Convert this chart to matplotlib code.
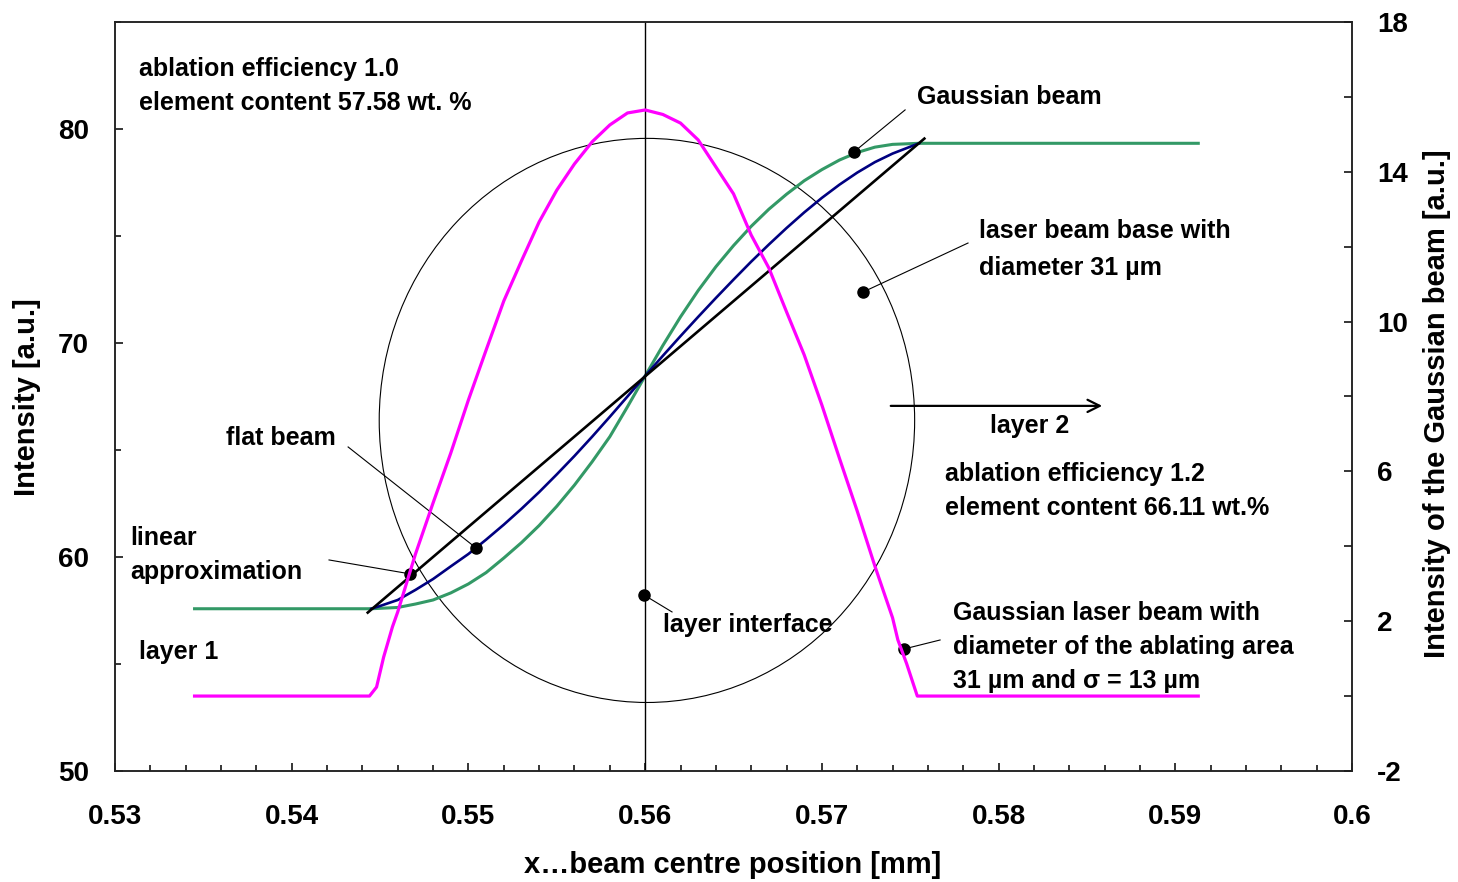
import matplotlib
matplotlib.use("Agg")
import matplotlib.pyplot as plt
from matplotlib.patches import Ellipse
from matplotlib.ticker import MultipleLocator

plt.rcParams["font.family"] = ["Liberation Sans", "DejaVu Sans"]
plt.rcParams["font.weight"] = "bold"
plt.rcParams["axes.unicode_minus"] = False

# x positions of the beam centre [mm]
x_gauss = [0.5345, 0.5445, 0.546, 0.547, 0.548, 0.549, 0.550, 0.551, 0.552, 0.553,
           0.554, 0.555, 0.556, 0.557, 0.558, 0.559, 0.560, 0.561, 0.562, 0.563,
           0.564, 0.565, 0.566, 0.567, 0.568, 0.569, 0.570, 0.571, 0.572, 0.573,
           0.574, 0.5755, 0.5913]
# intensity, Gaussian beam (green)
y_gauss = [57.58, 57.58, 57.64, 57.80, 57.99, 58.32, 58.74, 59.27, 59.95, 60.67,
           61.47, 62.37, 63.36, 64.45, 65.62, 67.02, 68.46, 69.88, 71.22, 72.45,
           73.56, 74.55, 75.45, 76.25, 76.95, 77.58, 78.10, 78.55, 78.90, 79.15,
           79.28, 79.33, 79.33]

# flat beam (blue)
x_flat = [0.5445, 0.545, 0.546, 0.547, 0.548, 0.549, 0.550, 0.551, 0.552, 0.553,
          0.554, 0.555, 0.556, 0.557, 0.558, 0.559, 0.560, 0.561, 0.562, 0.563,
          0.564, 0.565, 0.566, 0.567, 0.568, 0.569, 0.570, 0.571, 0.572, 0.573,
          0.574, 0.5755]
y_flat = [57.58, 57.71, 57.99, 58.46, 58.97, 59.56, 60.14, 60.81, 61.51, 62.25,
          63.03, 63.86, 64.72, 65.62, 66.55, 67.50, 68.46, 69.40, 70.32, 71.22,
          72.10, 72.96, 73.80, 74.60, 75.37, 76.10, 76.78, 77.40, 77.96, 78.45,
          78.85, 79.33]

# linear approximation (black)
x_lin = [0.5443, 0.5758]
y_lin = [57.40, 79.55]

# Gaussian beam profile, right axis (magenta)
x_prof = [0.5345, 0.5444, 0.5448, 0.5452, 0.5457, 0.546, 0.547, 0.548, 0.549, 0.550,
          0.551, 0.552, 0.553, 0.554, 0.555, 0.556, 0.557, 0.558, 0.559, 0.560,
          0.561, 0.562, 0.563, 0.564, 0.565, 0.566, 0.567, 0.568, 0.569, 0.570,
          0.571, 0.572, 0.573, 0.574, 0.5743, 0.5748, 0.5754, 0.5913]
y_prof = [0, 0, 0.24, 1.04, 1.85, 2.25, 3.79, 5.16, 6.49, 7.91,
          9.24, 10.55, 11.62, 12.66, 13.51, 14.21, 14.80, 15.25, 15.57, 15.65,
          15.53, 15.30, 14.85, 14.13, 13.41, 12.31, 11.43, 10.26, 9.11, 7.77,
          6.34, 4.94, 3.47, 2.09, 1.50, 0.86, 0, 0]

xticks = [0.53, 0.54, 0.55, 0.56, 0.57, 0.58, 0.59, 0.60]
xtick_labels = ["0.53", "0.54", "0.55", "0.56", "0.57", "0.58", "0.59", "0.6"]
yticks_left = [50, 60, 70, 80]
yticks_right = [-2, 2, 6, 10, 14, 18]

fig = plt.figure(figsize=(14.58, 8.82), dpi=100)
ax = fig.add_axes([0.0789, 0.1259, 0.8484, 0.8492])
ax2 = ax.twinx()

ax.plot(x_gauss, y_gauss, color="#339966", lw=2.2)
ax.plot(x_flat, y_flat, color="#000080", lw=1.9)
ax.plot(x_lin, y_lin, color="black", lw=1.9)
ax.axvline(0.56, color="black", lw=1.0)
ax.add_patch(Ellipse((0.5601, 66.38), 0.0303, 26.36, fill=False, ec="black", lw=0.8))

ax2.plot(x_prof, y_prof, color="#FF00FF", lw=2.3)

ax.set_xlim(0.53, 0.60)
ax.set_ylim(50, 85)
ax2.set_ylim(-2, 18)

ax.set_xticks(xticks)
ax.set_xticklabels(xtick_labels)
ax.xaxis.set_minor_locator(MultipleLocator(0.002))
ax.set_yticks(yticks_left)
ax.yaxis.set_minor_locator(MultipleLocator(5))
ax2.set_yticks(yticks_right)
ax2.yaxis.set_minor_locator(MultipleLocator(2))

ax.tick_params(axis="x", which="major", direction="in", length=6, width=1.1, pad=24, labelsize=20)
ax.tick_params(axis="x", which="minor", direction="in", length=4, width=1.1)
ax.tick_params(axis="y", which="major", direction="in", length=6, width=1.1, pad=19, labelsize=20)
ax.tick_params(axis="y", which="minor", direction="in", length=4, width=1.1)
ax.tick_params(top=False, right=False)
ax2.tick_params(axis="y", which="both", direction="in", length=6, width=1.1, pad=18, labelsize=20)
for lbl in ax.get_xticklabels() + ax.get_yticklabels() + ax2.get_yticklabels():
    lbl.set_fontweight("bold")

for a in (ax, ax2):
    for s in a.spines.values():
        s.set_linewidth(1.1)
        s.set_color("#222222")

fig.text(0.5027, 0.0193, "x…beam centre position [mm]", ha="center", va="center",
         fontsize=21, fontweight="bold")
fig.text(0.0185, 0.5499, "Intensity [a.u.]", ha="center", va="center",
         rotation=90, fontsize=21, fontweight="bold")
fig.text(0.9856, 0.542, "Intensity of the Gaussian beam [a.u.]", ha="center", va="center",
         rotation=90, fontsize=21, fontweight="bold")

# annotations
labels = [
    (0.53136, 82.80, "ablation efficiency 1.0"),
    (0.53136, 81.21, "element content 57.58 wt. %"),
    (0.57538, 81.50, "Gaussian beam"),
    (0.57889, 75.23, "laser beam base with"),
    (0.57889, 73.50, "diameter 31 µm"),
    (0.57952, 66.12, "layer 2"),
    (0.57697, 63.88, "ablation efficiency 1.2"),
    (0.57697, 62.29, "element content 66.11 wt.%"),
    (0.53628, 65.56, "flat beam"),
    (0.53085, 60.89, "linear"),
    (0.53085, 59.30, "approximation"),
    (0.53136, 55.56, "layer 1"),
    (0.56101, 56.82, "layer interface"),
    (0.57742, 57.38, "Gaussian laser beam with"),
    (0.57742, 55.79, "diameter of the ablating area"),
    (0.57742, 54.21, "31 µm and σ = 13 µm"),
]
for tx, ty, s in labels:
    ax.text(tx, ty, s, ha="left", va="center", fontsize=18, fontweight="bold")

# dots with leader lines
pointers = [
    ((0.57182, 78.93), (0.57471, 80.89)),
    ((0.57233, 72.38), (0.57827, 74.67)),
    ((0.55043, 60.42), (0.54319, 65.14)),
    ((0.54669, 59.21), (0.54211, 59.86)),
    ((0.55994, 58.22), (0.56152, 57.43)),
    ((0.57465, 55.70), (0.57669, 56.12)),
]
for (dx, dy), (lx, ly) in pointers:
    ax.plot([dx, lx], [dy, ly], color="black", lw=0.8)
    ax.plot(dx, dy, "o", color="black", ms=8)

ax.annotate("", xy=(0.58602, 67.06), xytext=(0.57374, 67.06),
            arrowprops=dict(arrowstyle="->", color="black", lw=1.6, mutation_scale=22))

fig.savefig("out.png", dpi=100)
